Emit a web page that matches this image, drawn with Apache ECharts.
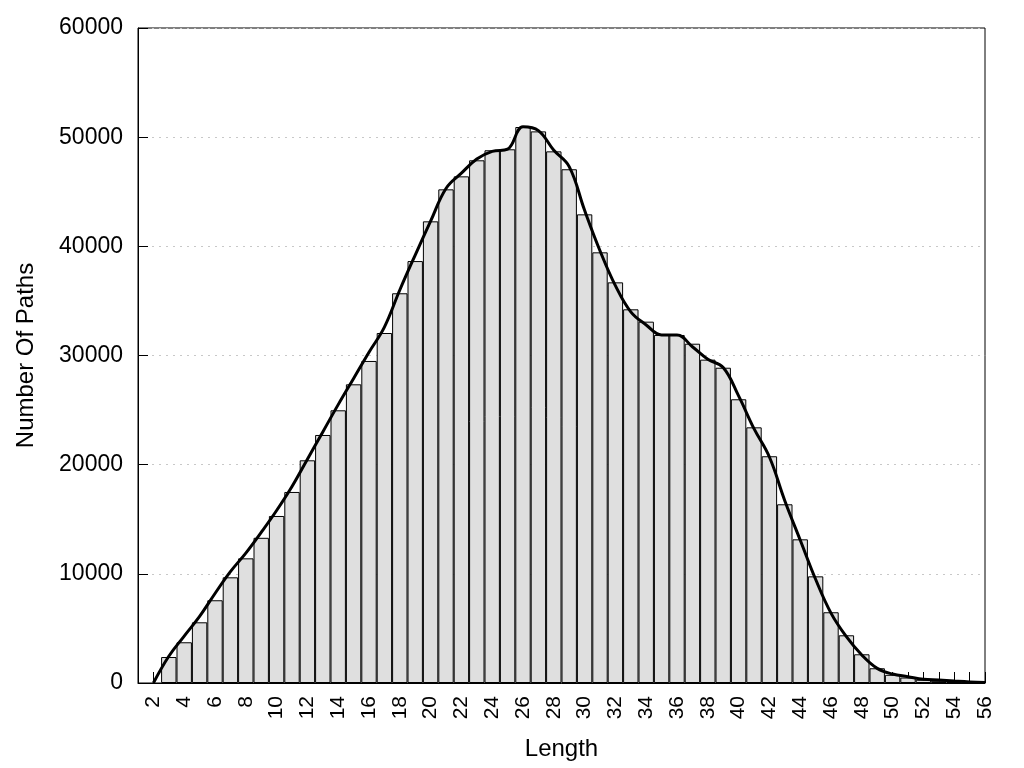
<!DOCTYPE html>
<html>
<head>
<meta charset="utf-8">
<title>Path length histogram</title>
<script src="https://cdn.jsdelivr.net/npm/echarts@6/dist/echarts.min.js"></script>
<style>
  html, body { margin: 0; padding: 0; background: #fff; }
  #chart { width: 1024px; height: 768px; }
</style>
</head>
<body>
<div id="chart"></div>
<script>
// path length categories 1..56
var lengths = [];
for (var i = 1; i <= 56; i++) lengths.push(String(i));

// histogram bars (count of paths per length), null where there is no bar
var barCounts = [
  null, null, 2380, 3730, 5560, 7580, 9680, 11420, 13300, 15300,
  17500, 20400, 22720, 24980, 27360, 29500, 32060, 35700, 38650, 42290,
  45220, 46410, 47880, 48800, 48890, 50930, 50530, 48700, 47060, 42930,
  39450, 36700, 34230, 33100, 31880, 31880, 31080, 29620, 28880, 25990,
  23420, 20770, 16370, 13160, 9770, 6480, 4370, 2630, 1350, 750,
  500, 300, 200, 120, 60, null
];

// smoothed curve drawn over the bars
var curveCounts = [
  null, 0, 2450, 4300, 6100, 8200, 10200, 11900, 13800, 15800,
  18000, 20500, 23000, 25500, 27900, 30300, 32600, 36000, 39200, 42300,
  45300, 46700, 48000, 48700, 48900, 50950, 50600, 48800, 47300, 43300,
  39600, 36400, 34000, 32800, 31880, 31880, 30800, 29650, 28900, 26300,
  23300, 20700, 16700, 13100, 9500, 6400, 4240, 2560, 1340, 820,
  580, 340, 270, 180, 100, 50
];

var yTicks = { min: 0, max: 60000, step: 10000 };

var chart = echarts.init(document.getElementById('chart'));
var font = 'Liberation Sans, Arial, sans-serif';

var option = {
  animation: false,
  backgroundColor: '#fff',
  grid: {
    left: 138, right: 39, top: 28, bottom: 85,
    show: true, borderColor: '#000', borderWidth: 1, backgroundColor: 'transparent'
  },
  xAxis: {
    type: 'category',
    data: lengths,
    boundaryGap: false,
    name: 'Length',
    nameLocation: 'middle',
    nameGap: 54,
    nameTextStyle: { fontFamily: font, fontSize: 24, color: '#000' },
    axisLine: { show: true, lineStyle: { color: '#000', width: 1 } },
    axisTick: { show: true, inside: true, length: 11, interval: 0, lineStyle: { color: '#000' } },
    axisLabel: {
      rotate: 90,
      margin: 13,
      fontFamily: font,
      fontSize: 21,
      color: '#000',
      interval: function (idx, val) { return Number(val) % 2 === 0; }
    },
    splitLine: { show: false }
  },
  yAxis: {
    type: 'value',
    min: yTicks.min,
    max: yTicks.max,
    interval: yTicks.step,
    name: 'Number Of Paths',
    nameLocation: 'middle',
    nameGap: 100,
    nameTextStyle: { fontFamily: font, fontSize: 24, color: '#000' },
    axisLine: { show: true, lineStyle: { color: '#000', width: 1 } },
    axisTick: { show: true, inside: true, length: 10, lineStyle: { color: '#000' } },
    axisLabel: {
      margin: 15, fontFamily: font, fontSize: 23, color: '#000',
      formatter: function (v) { return String(v); }
    },
    splitLine: { show: true, lineStyle: { color: '#c8c8c8', type: [2, 5], width: 1 } }
  },
  series: [
    {
      name: 'bars',
      type: 'bar',
      data: barCounts,
      barCategoryGap: '0%',
      barGap: '0%',
      itemStyle: { color: '#dfdfdf', borderColor: '#000', borderWidth: 1 },
      z: 2
    },
    {
      name: 'curve',
      type: 'line',
      data: curveCounts,
      smooth: 0.4,
      showSymbol: false,
      connectNulls: false,
      lineStyle: { color: '#000', width: 3 },
      z: 5
    }
  ]
};

chart.setOption(option);
</script>
</body>
</html>
